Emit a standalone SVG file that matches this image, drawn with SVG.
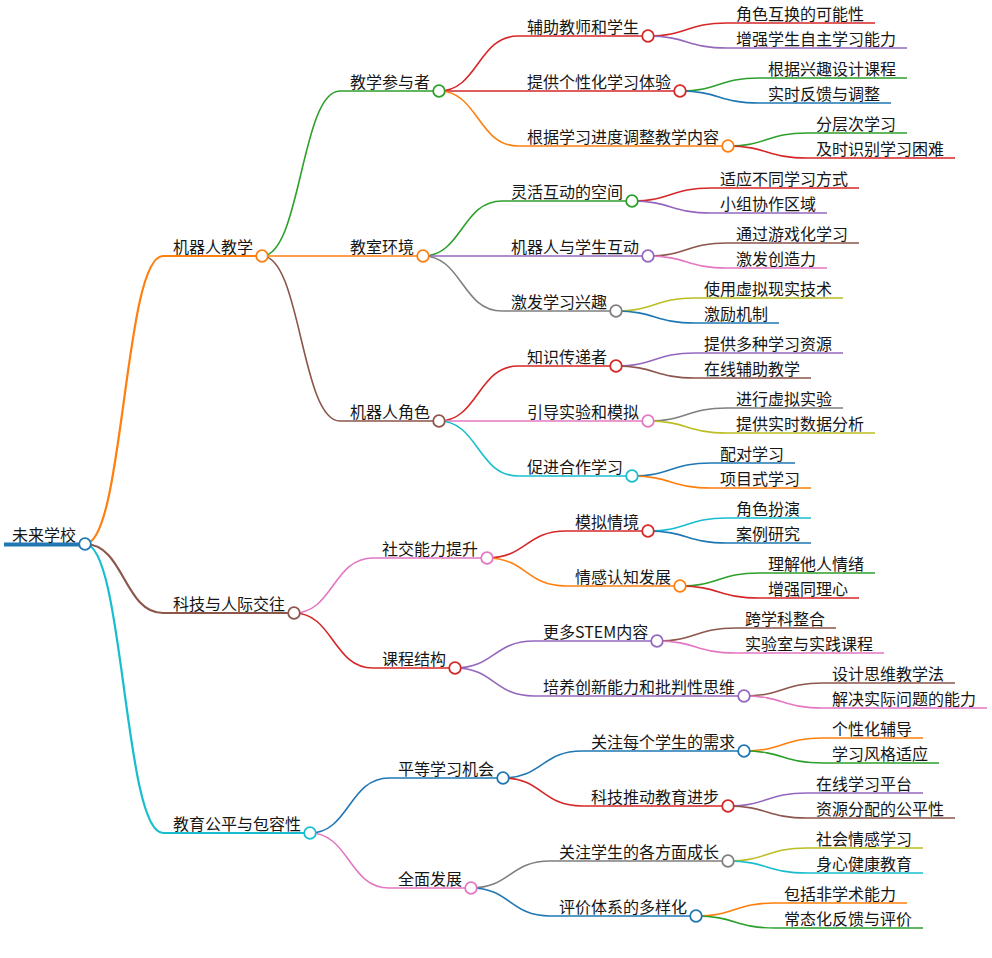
<svg xmlns="http://www.w3.org/2000/svg" width="992" height="958" viewBox="0 0 992 958">
<style>
text{font-family:"Noto Sans CJK SC","Noto Sans",sans-serif;font-size:16px;fill:#161616}
#connectors path{fill:none;stroke-width:1.6}
#connectors path.l1{stroke-width:2.2}
circle{fill:#fff;stroke-width:1.8;r:5.8px}
.bl{stroke:#1f77b4}.or{stroke:#ff7f0e}.gr{stroke:#2ca02c}.re{stroke:#d62728}.pu{stroke:#9467bd}
.br{stroke:#8c564b}.pi{stroke:#e377c2}.ga{stroke:#7f7f7f}.ol{stroke:#bcbd22}.cy{stroke:#17becf}
</style>
<rect width="992" height="958" fill="#fff"/>
<g id="connectors">
<path class="bl" style="stroke-width:4" d="M4 544.5H85"/>
<path class="or l1" d="M85 544C124 544 124 256 163 256H262"/>
<path class="br l1" d="M85 544C124 544 124 613 163 613H294"/>
<path class="cy l1" d="M85 544C124 544 124 833 163 833H310"/>
<path class="gr" d="M262 256C301 256 301 91 340 91H439"/>
<path class="or" d="M262 256C301 256 301 256 340 256H423"/>
<path class="br" d="M262 256C301 256 301 421 340 421H439"/>
<path class="re" d="M439 91C478 91 478 36 518 36H648"/>
<path class="re" d="M439 91C478 91 478 91 518 91H680"/>
<path class="or" d="M439 91C478 91 478 146 518 146H728"/>
<path class="re" d="M648 36C687 36 687 23 727 23H875"/>
<path class="pu" d="M648 36C687 36 687 48 727 48H907"/>
<path class="gr" d="M680 91C719 91 719 78 759 78H907"/>
<path class="bl" d="M680 91C719 91 719 103 759 103H891"/>
<path class="gr" d="M728 146C767 146 767 133 807 133H907"/>
<path class="re" d="M728 146C767 146 767 158 807 158H955"/>
<path class="gr" d="M423 256C462 256 462 201 502 201H632"/>
<path class="pu" d="M423 256C462 256 462 256 502 256H648"/>
<path class="ga" d="M423 256C462 256 462 311 502 311H616"/>
<path class="re" d="M632 201C671 201 671 188 711 188H859"/>
<path class="pu" d="M632 201C671 201 671 213 711 213H827"/>
<path class="br" d="M648 256C687 256 687 243 727 243H859"/>
<path class="pi" d="M648 256C687 256 687 268 727 268H827"/>
<path class="ol" d="M616 311C655 311 655 298 695 298H843"/>
<path class="bl" d="M616 311C655 311 655 323 695 323H779"/>
<path class="re" d="M439 421C478 421 478 366 518 366H616"/>
<path class="pi" d="M439 421C478 421 478 421 518 421H648"/>
<path class="cy" d="M439 421C478 421 478 476 518 476H632"/>
<path class="pu" d="M616 366C655 366 655 353 695 353H843"/>
<path class="br" d="M616 366C655 366 655 378 695 378H811"/>
<path class="ga" d="M648 421C687 421 687 408 727 408H843"/>
<path class="ol" d="M648 421C687 421 687 433 727 433H875"/>
<path class="bl" d="M632 476C671 476 671 463 711 463H795"/>
<path class="or" d="M632 476C671 476 671 488 711 488H811"/>
<path class="pi" d="M294 613C333 613 333 558 373 558H487"/>
<path class="re" d="M294 613C333 613 333 668 373 668H455"/>
<path class="re" d="M487 558C526 558 526 531 566 531H648"/>
<path class="or" d="M487 558C526 558 526 586 566 586H680"/>
<path class="cy" d="M648 531C687 531 687 518 727 518H811"/>
<path class="bl" d="M648 531C687 531 687 543 727 543H811"/>
<path class="gr" d="M680 586C719 586 719 573 759 573H875"/>
<path class="re" d="M680 586C719 586 719 598 759 598H859"/>
<path class="pu" d="M455 668C494 668 494 641 534 641H657"/>
<path class="pu" d="M455 668C494 668 494 696 534 696H744"/>
<path class="br" d="M657 641C696 641 696 628 736 628H836"/>
<path class="pi" d="M657 641C696 641 696 653 736 653H884"/>
<path class="br" d="M744 696C783 696 783 683 823 683H955"/>
<path class="pi" d="M744 696C783 696 783 708 823 708H987"/>
<path class="bl" d="M310 833C349 833 349 778 389 778H503"/>
<path class="pi" d="M310 833C349 833 349 888 389 888H471"/>
<path class="bl" d="M503 778C542 778 542 751 582 751H744"/>
<path class="re" d="M503 778C542 778 542 806 582 806H728"/>
<path class="or" d="M744 751C783 751 783 738 823 738H923"/>
<path class="gr" d="M744 751C783 751 783 763 823 763H939"/>
<path class="pu" d="M728 806C767 806 767 793 807 793H923"/>
<path class="br" d="M728 806C767 806 767 818 807 818H955"/>
<path class="ga" d="M471 888C510 888 510 861 550 861H728"/>
<path class="bl" d="M471 888C510 888 510 916 550 916H696"/>
<path class="ol" d="M728 861C767 861 767 848 807 848H923"/>
<path class="cy" d="M728 861C767 861 767 873 807 873H923"/>
<path class="or" d="M696 916C735 916 735 903 775 903H907"/>
<path class="gr" d="M696 916C735 916 735 928 775 928H923"/>
</g>
<g id="n0"><text x="12" y="541">未来学校</text><circle class="bl" cx="85" cy="544"/></g>
<g id="n1"><text x="173" y="253">机器人教学</text><circle class="or" cx="262" cy="256"/></g>
<g id="n2"><text x="350" y="88">教学参与者</text><circle class="gr" cx="439" cy="91"/></g>
<g id="n3"><text x="527" y="33">辅助教师和学生</text><circle class="re" cx="648" cy="36"/></g>
<g id="n4"><text x="736" y="20">角色互换的可能性</text></g>
<g id="n5"><text x="736" y="45">增强学生自主学习能力</text></g>
<g id="n6"><text x="527" y="88">提供个性化学习体验</text><circle class="re" cx="680" cy="91"/></g>
<g id="n7"><text x="768" y="75">根据兴趣设计课程</text></g>
<g id="n8"><text x="768" y="100">实时反馈与调整</text></g>
<g id="n9"><text x="527" y="143">根据学习进度调整教学内容</text><circle class="or" cx="728" cy="146"/></g>
<g id="n10"><text x="816" y="130">分层次学习</text></g>
<g id="n11"><text x="816" y="155">及时识别学习困难</text></g>
<g id="n12"><text x="350" y="253">教室环境</text><circle class="or" cx="423" cy="256"/></g>
<g id="n13"><text x="511" y="198">灵活互动的空间</text><circle class="gr" cx="632" cy="201"/></g>
<g id="n14"><text x="720" y="185">适应不同学习方式</text></g>
<g id="n15"><text x="720" y="210">小组协作区域</text></g>
<g id="n16"><text x="511" y="253">机器人与学生互动</text><circle class="pu" cx="648" cy="256"/></g>
<g id="n17"><text x="736" y="240">通过游戏化学习</text></g>
<g id="n18"><text x="736" y="265">激发创造力</text></g>
<g id="n19"><text x="511" y="308">激发学习兴趣</text><circle class="ga" cx="616" cy="311"/></g>
<g id="n20"><text x="704" y="295">使用虚拟现实技术</text></g>
<g id="n21"><text x="704" y="320">激励机制</text></g>
<g id="n22"><text x="350" y="418">机器人角色</text><circle class="br" cx="439" cy="421"/></g>
<g id="n23"><text x="527" y="363">知识传递者</text><circle class="re" cx="616" cy="366"/></g>
<g id="n24"><text x="704" y="350">提供多种学习资源</text></g>
<g id="n25"><text x="704" y="375">在线辅助教学</text></g>
<g id="n26"><text x="527" y="418">引导实验和模拟</text><circle class="pi" cx="648" cy="421"/></g>
<g id="n27"><text x="736" y="405">进行虚拟实验</text></g>
<g id="n28"><text x="736" y="430">提供实时数据分析</text></g>
<g id="n29"><text x="527" y="473">促进合作学习</text><circle class="cy" cx="632" cy="476"/></g>
<g id="n30"><text x="720" y="460">配对学习</text></g>
<g id="n31"><text x="720" y="485">项目式学习</text></g>
<g id="n32"><text x="173" y="610">科技与人际交往</text><circle class="br" cx="294" cy="613"/></g>
<g id="n33"><text x="382" y="555">社交能力提升</text><circle class="pi" cx="487" cy="558"/></g>
<g id="n34"><text x="575" y="528">模拟情境</text><circle class="re" cx="648" cy="531"/></g>
<g id="n35"><text x="736" y="515">角色扮演</text></g>
<g id="n36"><text x="736" y="540">案例研究</text></g>
<g id="n37"><text x="575" y="583">情感认知发展</text><circle class="or" cx="680" cy="586"/></g>
<g id="n38"><text x="768" y="570">理解他人情绪</text></g>
<g id="n39"><text x="768" y="595">增强同理心</text></g>
<g id="n40"><text x="382" y="665">课程结构</text><circle class="re" cx="455" cy="668"/></g>
<g id="n41"><text x="543" y="638">更多STEM内容</text><circle class="pu" cx="657" cy="641"/></g>
<g id="n42"><text x="745" y="625">跨学科整合</text></g>
<g id="n43"><text x="745" y="650">实验室与实践课程</text></g>
<g id="n44"><text x="543" y="693">培养创新能力和批判性思维</text><circle class="pu" cx="744" cy="696"/></g>
<g id="n45"><text x="832" y="680">设计思维教学法</text></g>
<g id="n46"><text x="832" y="705">解决实际问题的能力</text></g>
<g id="n47"><text x="173" y="830">教育公平与包容性</text><circle class="cy" cx="310" cy="833"/></g>
<g id="n48"><text x="398" y="775">平等学习机会</text><circle class="bl" cx="503" cy="778"/></g>
<g id="n49"><text x="591" y="748">关注每个学生的需求</text><circle class="bl" cx="744" cy="751"/></g>
<g id="n50"><text x="832" y="735">个性化辅导</text></g>
<g id="n51"><text x="832" y="760">学习风格适应</text></g>
<g id="n52"><text x="591" y="803">科技推动教育进步</text><circle class="re" cx="728" cy="806"/></g>
<g id="n53"><text x="816" y="790">在线学习平台</text></g>
<g id="n54"><text x="816" y="815">资源分配的公平性</text></g>
<g id="n55"><text x="398" y="885">全面发展</text><circle class="pi" cx="471" cy="888"/></g>
<g id="n56"><text x="559" y="858">关注学生的各方面成长</text><circle class="ga" cx="728" cy="861"/></g>
<g id="n57"><text x="816" y="845">社会情感学习</text></g>
<g id="n58"><text x="816" y="870">身心健康教育</text></g>
<g id="n59"><text x="559" y="913">评价体系的多样化</text><circle class="bl" cx="696" cy="916"/></g>
<g id="n60"><text x="784" y="900">包括非学术能力</text></g>
<g id="n61"><text x="784" y="925">常态化反馈与评价</text></g>
</svg>
